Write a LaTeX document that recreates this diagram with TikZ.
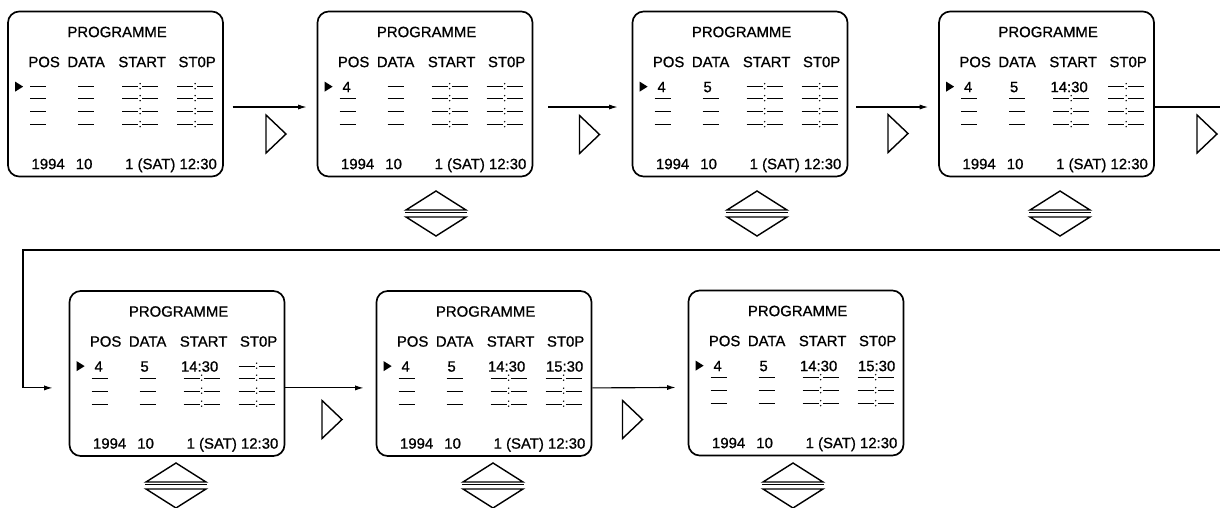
\documentclass[tikz,border=0pt]{standalone}
\usepackage{fontspec}
\setmainfont{Liberation Sans}
\newfontfamily\screenfont{Liberation Sans}[FakeBold=0.9]
\usetikzlibrary{arrows.meta}
\tikzset{
    screen/.style={
        draw,
        line width=1.2pt,
        rounded corners=8pt,
        minimum width=5.375cm,
        minimum height=4.125cm,
        inner sep=0pt
    },
    screentext/.style={
        font=\screenfont\fontsize{10.6}{12}\selectfont,
        inner sep=0pt,
        anchor=base
    },
    dashline/.style={
        line width=0.9pt
    },
    keyline/.style={
        line width=1pt,
        line join=miter
    },
    arrow/.style={
        -{Latex[length=6pt,width=3.6pt]},
        line width=0.8pt
    }
}
% one blank field of the list
\newcommand{\shortdash}[2]{\draw[dashline] (#1-8,#2) -- (#1+8,#2);}
\newcommand{\timedash}[2]{%
    \draw[dashline] (#1-18,#2) -- (#1-2,#2) (#1+2,#2) -- (#1+18,#2);
    \fill (#1,#2-3) circle[radius=0.55pt] (#1,#2+2) circle[radius=0.55pt];}
% programme screen: name, centre, pos, data, start, stop
\newcommand{\progscreen}[6]{%
    \node[screen] (#1) at (#2) {};
    \begin{scope}[shift={(#1.north west)}]
        \node[screentext] (#1-title) at (110,26.5) {PROGRAMME};
        \node[screentext] (#1-pos) at (37,56.5) {POS};
        \node[screentext] (#1-data) at (79,56.5) {DATA};
        \node[screentext] (#1-start) at (135,56.5) {START};
        \node[screentext] (#1-stop) at (190,56.5) {ST0P};
        \fill (8,71) -- (16,76) -- (8,81) -- cycle;
        \ifx\relax#3\relax \shortdash{31}{76} \else \node[screentext] (#1-v1) at (30,81.5) {#3}; \fi
        \ifx\relax#4\relax \shortdash{79}{76} \else \node[screentext] (#1-v2) at (76,81.5) {#4}; \fi
        \ifx\relax#5\relax \timedash{133}{76} \else \node[screentext] (#1-v3) at (131,81.5) {#5}; \fi
        \ifx\relax#6\relax \timedash{188}{76} \else \node[screentext] (#1-v4) at (189,81.5) {#6}; \fi
        \foreach \r in {88,101,114} {
            \shortdash{31}{\r}
            \shortdash{79}{\r}
            \timedash{133}{\r}
            \timedash{188}{\r}
        }
        \node[screentext] (#1-year) at (41,158.5) {1994};
        \node[screentext] (#1-month) at (77,158.5) {10};
        \node[screentext, anchor=base east] (#1-day) at (210,158.5) {1 (SAT) 12:30};
    \end{scope}}
% key symbols
\newcommand{\nextkey}[2]{\draw[keyline] (#1-10,#2-19) -- (#1+10,#2) -- (#1-10,#2+19) -- cycle;}
\newcommand{\updownkey}[2]{%
    \draw[keyline] (#1-30,#2+19) -- (#1,#2) -- (#1+30,#2+19) -- cycle;
    \draw[line width=1.1pt] (#1-31,#2+21.5) -- (#1+31,#2+21.5);
    \draw[keyline] (#1-30,#2+26) -- (#1,#2+45) -- (#1+30,#2+26) -- cycle;}

\begin{document}
\begin{tikzpicture}[x=0.025cm, y=-0.025cm]
    \useasboundingbox (0,0) rectangle (1220,507);
    \clip (0,0) rectangle (1220,507);

    % first row
    \progscreen{s1}{115.5,94}{}{}{}{}
    \progscreen{s2}{425,94}{4}{}{}{}
    \progscreen{s3}{740,94}{4}{5}{}{}
    \progscreen{s4}{1046.5,94}{4}{5}{14:30}{}

    % second row
    \progscreen{s5}{177,373.5}{4}{5}{14:30}{}
    \progscreen{s6}{484,373.5}{4}{5}{14:30}{15:30}
    \progscreen{s7}{796,373}{4}{5}{14:30}{15:30}

    % connectors
    \draw[arrow, shorten <=0.22cm, shorten >=0.25cm] ([yshift=-0.325cm]s1.east) -- ([yshift=-0.325cm]s2.west);
    \draw[arrow, shorten <=0.37cm, shorten >=0.35cm] ([yshift=-0.325cm]s2.east) -- ([yshift=-0.325cm]s3.west);
    \draw[arrow, shorten <=0.2cm, shorten >=0.25cm] ([yshift=-0.325cm]s3.east) -- ([yshift=-0.325cm]s4.west);
    \coordinate (wrapR) at (1226,250);
    \coordinate (wrapL) at (23,250);
    \draw[arrow, shorten >=0.4cm] ([yshift=-0.325cm]s4.east) -| (wrapR) -- (wrapL) |- ([yshift=-0.36cm]s5.west);
    \draw[arrow, shorten >=0.3cm] ([yshift=-0.36cm]s5.east) -- ([yshift=-0.36cm]s6.west);
    \draw[arrow, shorten >=0.3cm] ([yshift=-0.36cm]s6.east) -- ([yshift=-0.36cm]s7.west);

    % keys
    \nextkey{276}{134}
    \nextkey{589.5}{134.5}
    \nextkey{898}{133.5}
    \nextkey{1207}{134}
    \nextkey{332}{419.5}
    \nextkey{632.5}{419.5}
    \updownkey{436}{191}
    \updownkey{757}{191}
    \updownkey{1060}{191}
    \updownkey{176}{463}
    \updownkey{493}{463}
    \updownkey{793}{463}
\end{tikzpicture}
\end{document}
